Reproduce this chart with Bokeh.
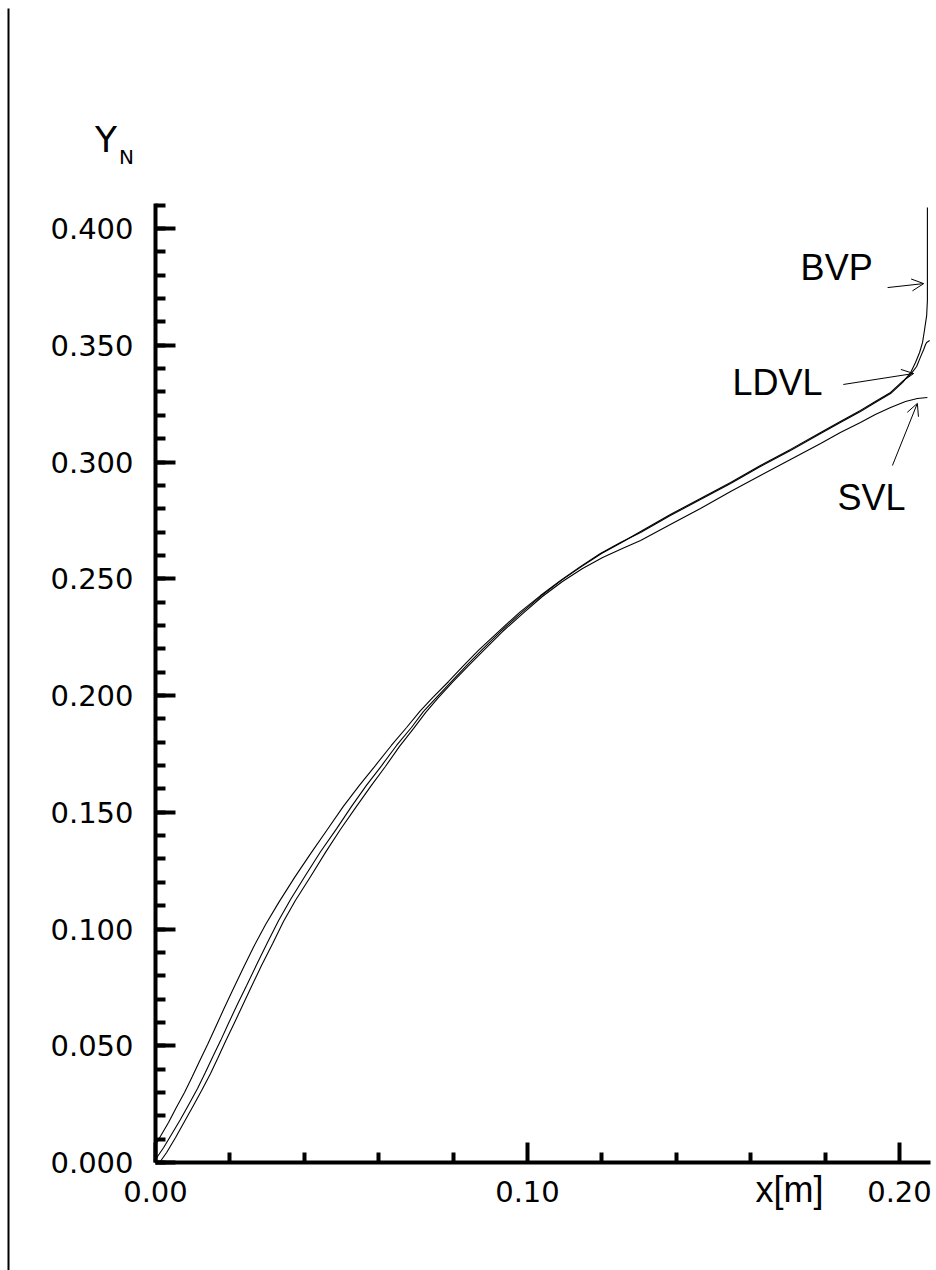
from bokeh.plotting import figure
from bokeh.models import (Range1d, LinearAxis, FixedTicker, NumeralTickFormatter,
                          Label, Arrow, OpenHead, ColumnDataSource)
from bokeh.core.properties import value
from bokeh.embed import file_html
from bokeh.resources import INLINE

# ---------------- data ----------------
bvp_x = [0.0000, 0.0013, 0.0035, 0.0056, 0.0078, 0.0099, 0.0118, 0.0140, 0.0161, 0.0183,
         0.0207, 0.0234, 0.0263, 0.0296, 0.0331, 0.0374, 0.0417, 0.0462, 0.0505, 0.0548,
         0.0591, 0.0634, 0.0675, 0.0710, 0.0745, 0.0788, 0.0828, 0.0868, 0.0925, 0.0978,
         0.1035, 0.1089, 0.1142, 0.1196, 0.1250, 0.1304, 0.1384, 0.1465, 0.1546, 0.1626,
         0.1707, 0.1788, 0.1841, 0.1895, 0.1935, 0.1976, 0.2008, 0.2030, 0.2043, 0.2054,
         0.2062, 0.2067, 0.2073, 0.2075, 0.2075]
bvp_y = [0.0073, 0.0111, 0.0171, 0.0236, 0.0300, 0.0368, 0.0433, 0.0505, 0.0578, 0.0655,
         0.0737, 0.0827, 0.0921, 0.1019, 0.1113, 0.1221, 0.1323, 0.1426, 0.1525, 0.1615,
         0.1700, 0.1786, 0.1863, 0.1931, 0.1991, 0.2060, 0.2128, 0.2193, 0.2278, 0.2355,
         0.2428, 0.2493, 0.2552, 0.2608, 0.2655, 0.2698, 0.2771, 0.2839, 0.2908, 0.2981,
         0.3049, 0.3122, 0.3169, 0.3216, 0.3255, 0.3293, 0.3340, 0.3383, 0.3426, 0.3469,
         0.3512, 0.3563, 0.3627, 0.3692, 0.4090]

ldvl_x = [0.0000, 0.0022, 0.0043, 0.0067, 0.0091, 0.0113, 0.0134, 0.0153, 0.0175, 0.0196,
          0.0220, 0.0245, 0.0272, 0.0301, 0.0331, 0.0363, 0.0403, 0.0444, 0.0487, 0.0527,
          0.0567, 0.0608, 0.0648, 0.0688, 0.0720, 0.0755, 0.0796, 0.0836, 0.0876, 0.0930,
          0.0984, 0.1038, 0.1091, 0.1145, 0.1199, 0.1253, 0.1304, 0.1384, 0.1465, 0.1546,
          0.1626, 0.1707, 0.1788, 0.1841, 0.1895, 0.1935, 0.1976, 0.2008, 0.2030, 0.2046,
          0.2056, 0.2065, 0.2070, 0.2073, 0.2081]
ldvl_y = [0.0013, 0.0064, 0.0120, 0.0184, 0.0253, 0.0317, 0.0385, 0.0450, 0.0522, 0.0595,
          0.0677, 0.0758, 0.0848, 0.0942, 0.1036, 0.1126, 0.1229, 0.1332, 0.1430, 0.1525,
          0.1615, 0.1700, 0.1786, 0.1863, 0.1931, 0.1991, 0.2060, 0.2128, 0.2193, 0.2278,
          0.2355, 0.2428, 0.2493, 0.2552, 0.2608, 0.2655, 0.2702, 0.2775, 0.2844, 0.2912,
          0.2985, 0.3054, 0.3126, 0.3173, 0.3221, 0.3259, 0.3298, 0.3345, 0.3375, 0.3409,
          0.3448, 0.3482, 0.3503, 0.3512, 0.3520]

svl_x = [0.0011, 0.0030, 0.0054, 0.0078, 0.0102, 0.0124, 0.0148, 0.0167, 0.0188, 0.0210,
         0.0234, 0.0258, 0.0285, 0.0315, 0.0344, 0.0376, 0.0417, 0.0457, 0.0497, 0.0538,
         0.0578, 0.0618, 0.0656, 0.0694, 0.0726, 0.0758, 0.0798, 0.0839, 0.0879, 0.0933,
         0.0987, 0.1040, 0.1094, 0.1148, 0.1202, 0.1255, 0.1304, 0.1384, 0.1465, 0.1546,
         0.1626, 0.1707, 0.1788, 0.1841, 0.1895, 0.1935, 0.1976, 0.2016, 0.2048, 0.2075]
svl_y = [0.0000, 0.0043, 0.0107, 0.0176, 0.0244, 0.0308, 0.0381, 0.0445, 0.0518, 0.0591,
         0.0672, 0.0754, 0.0844, 0.0938, 0.1032, 0.1122, 0.1225, 0.1328, 0.1426, 0.1520,
         0.1610, 0.1696, 0.1782, 0.1859, 0.1927, 0.1987, 0.2056, 0.2124, 0.2188, 0.2274,
         0.2351, 0.2424, 0.2488, 0.2544, 0.2591, 0.2630, 0.2664, 0.2732, 0.2801, 0.2874,
         0.2942, 0.3011, 0.3079, 0.3126, 0.3169, 0.3203, 0.3233, 0.3259, 0.3272, 0.3276]

x_major = [0.00, 0.10, 0.20]
x_minor = [0.02, 0.04, 0.06, 0.08, 0.12, 0.14, 0.16, 0.18]
y_major = [0.00, 0.05, 0.10, 0.15, 0.20, 0.25, 0.30, 0.35, 0.40]
y_minor = [round(i * 0.01, 2) for i in range(0, 42)]

ann_text = ["BVP", "LDVL", "SVL"]
ann_x = [0.1831, 0.1672, 0.1925]
ann_y = [0.3833, 0.3340, 0.2848]
arr_x0 = [0.1968, 0.1849, 0.1981]
arr_y0 = [0.3747, 0.3332, 0.2985]
arr_x1 = [0.2065, 0.2038, 0.2048]
arr_y1 = [0.3764, 0.3379, 0.3251]

# ---------------- page geometry ----------------
W, H = 936, 1270
X0_PX, Y0_PX = 155, 1162      # pixel position of the data origin
XS, YS = 3720.0, 2335.0       # pixels per data unit


def dx(px):
    return (px - X0_PX) / XS


def dy(py):
    return (Y0_PX - py) / YS


p = figure(width=W, height=H, x_range=Range1d(dx(0), dx(W)), y_range=Range1d(dy(H), dy(0)),
           output_backend="svg", toolbar_location=None, min_border=0,
           x_axis_type=None, y_axis_type=None)
p.outline_line_color = None
p.background_fill_color = "white"
p.border_fill_color = "white"

TICK_FONT = "DejaVu Sans"

xaxis = LinearAxis(fixed_location=0, bounds=(0, dx(930)),
                   ticker=FixedTicker(ticks=x_major, minor_ticks=x_minor),
                   formatter=NumeralTickFormatter(format="0.00"))
yaxis = LinearAxis(fixed_location=0, bounds=(0, dy(203)),
                   ticker=FixedTicker(ticks=y_major, minor_ticks=y_minor),
                   formatter=NumeralTickFormatter(format="0.000"))
for ax in (xaxis, yaxis):
    ax.axis_line_width = 4
    ax.axis_line_color = "black"
    ax.major_tick_in = 20
    ax.major_tick_out = 0
    ax.minor_tick_in = 10
    ax.minor_tick_out = 0
    ax.major_tick_line_width = 4
    ax.minor_tick_line_width = 4
    ax.major_tick_line_color = "black"
    ax.minor_tick_line_color = "black"
    ax.major_label_text_font = TICK_FONT
    ax.major_label_text_font_size = "29px"
    ax.major_label_text_color = "black"
xaxis.major_label_standoff = 18
yaxis.major_label_standoff = 22
p.add_layout(xaxis, "below")
p.add_layout(yaxis, "left")

# left page rule
p.line([dx(8), dx(8)], [dy(8), dy(H)], line_color="black", line_width=2)

# curves
for xs, ys in ((bvp_x, bvp_y), (ldvl_x, ldvl_y), (svl_x, svl_y)):
    p.line(xs, ys, line_color="black", line_width=1.1)

# annotations
src = ColumnDataSource(dict(x=ann_x, y=ann_y, t=ann_text))
p.text(x="x", y="y", text="t", source=src, text_font=value("Liberation Sans"),
       text_font_size="36px", text_align="center", text_baseline="middle", text_color="black")
asrc = ColumnDataSource(dict(x0=arr_x0, y0=arr_y0, x1=arr_x1, y1=arr_y1))
p.add_layout(Arrow(x_start="x0", y_start="y0", x_end="x1", y_end="y1", source=asrc,
                   line_width=1, line_color="black",
                   end=OpenHead(size=12, line_width=1, line_color="black")))

# axis titles
p.add_layout(Label(x=dx(105.5), y=dy(139), text="Y", text_font="DejaVu Sans",
                   text_font_size="36px", text_align="center", text_baseline="middle",
                   text_color="black"))
p.add_layout(Label(x=dx(126), y=dy(156), text="N", text_font="DejaVu Sans",
                   text_font_size="20px", text_align="center", text_baseline="middle",
                   text_color="black"))
p.add_layout(Label(x=dx(789), y=dy(1189), text="x[m]", text_font="Liberation Sans",
                   text_font_size="36px", text_align="center", text_baseline="middle",
                   text_color="black"))

open("out.html", "w").write(file_html(p, INLINE))
